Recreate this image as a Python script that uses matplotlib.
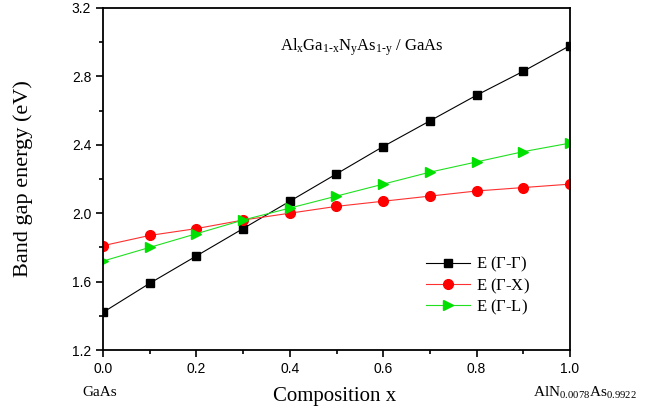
import matplotlib
matplotlib.use("Agg")
import matplotlib.pyplot as plt
from matplotlib.ticker import MultipleLocator

x = [0.0, 0.1, 0.2, 0.3, 0.4, 0.5, 0.6, 0.7, 0.8, 0.9, 1.0]
e_gg = [1.42, 1.59, 1.75, 1.91, 2.07, 2.23, 2.39, 2.54, 2.69, 2.83, 2.98]
e_gx = [1.81, 1.87, 1.91, 1.96, 2.00, 2.04, 2.07, 2.10, 2.13, 2.15, 2.17]
e_gl = [1.72, 1.80, 1.88, 1.96, 2.03, 2.10, 2.17, 2.24, 2.30, 2.36, 2.41]

plt.rcParams['mathtext.fontset'] = 'custom'
plt.rcParams['mathtext.rm'] = 'Liberation Serif'
plt.rcParams['mathtext.it'] = 'Liberation Serif'
serif = 'Liberation Serif'
sans = 'Liberation Sans'

fig = plt.figure(figsize=(6.49, 4.12), dpi=100)
ax = fig.add_axes([103/649, 62/412, 467/649, 342/412])

ax.plot(x, e_gg, color='black', lw=0.8, marker='s', ms=6, label=r'E ($\Gamma$-$\Gamma$)')
ax.plot(x, e_gx, color='#ff3030', lw=0.8, marker='o', mfc='red', mec='red', ms=7, label=r'E ($\Gamma$-X)')
ax.plot(x, e_gl, color='#20e020', lw=0.8, marker='>', mfc='#00e000', mec='#00e000', ms=7, label=r'E ($\Gamma$-L)')

ax.set_xlim(0, 1.0)
ax.set_ylim(1.2, 3.2)
ax.xaxis.set_major_locator(MultipleLocator(0.2))
ax.xaxis.set_minor_locator(MultipleLocator(0.1))
ax.yaxis.set_major_locator(MultipleLocator(0.4))
ax.yaxis.set_minor_locator(MultipleLocator(0.2))
ax.tick_params(which='both', direction='out', top=False, right=False, width=1.2)
ax.tick_params(which='major', length=5, labelsize=10)
ax.tick_params(which='minor', length=3)
for lab in ax.get_xticklabels() + ax.get_yticklabels():
    lab.set_fontfamily(sans)
for s in ax.spines.values():
    s.set_linewidth(1.3)

ax.set_ylabel('Band gap energy (eV)', fontsize=16, fontfamily=serif, labelpad=28)
fig.text(335/649, 1 - 396/412, 'Composition x', fontsize=15, fontfamily=serif, ha='center', va='center')
fig.text(100/649, 1 - 393/412, 'GaAs', fontsize=11, fontfamily=serif, ha='center', va='center')
fig.text(585/649, 1 - 393/412, r'AlN$_{0.0078}$As$_{0.9922}$', fontsize=11, fontfamily=serif, ha='center', va='center')
ax.text(0.555, 0.885, r'Al$_{\mathrm{x}}$Ga$_{\mathrm{1\text{-}x}}$N$_{\mathrm{y}}$As$_{\mathrm{1\text{-}y}}$ / GaAs',
        transform=ax.transAxes, fontsize=12, fontfamily=serif, ha='center', va='center')

leg = ax.legend(loc='lower left', bbox_to_anchor=(0.66, 0.053), frameon=False,
                prop={'family': serif, 'size': 12}, handlelength=2.6, labelspacing=0.12,
                handletextpad=0.4)

fig.savefig('out.png', dpi=100)
